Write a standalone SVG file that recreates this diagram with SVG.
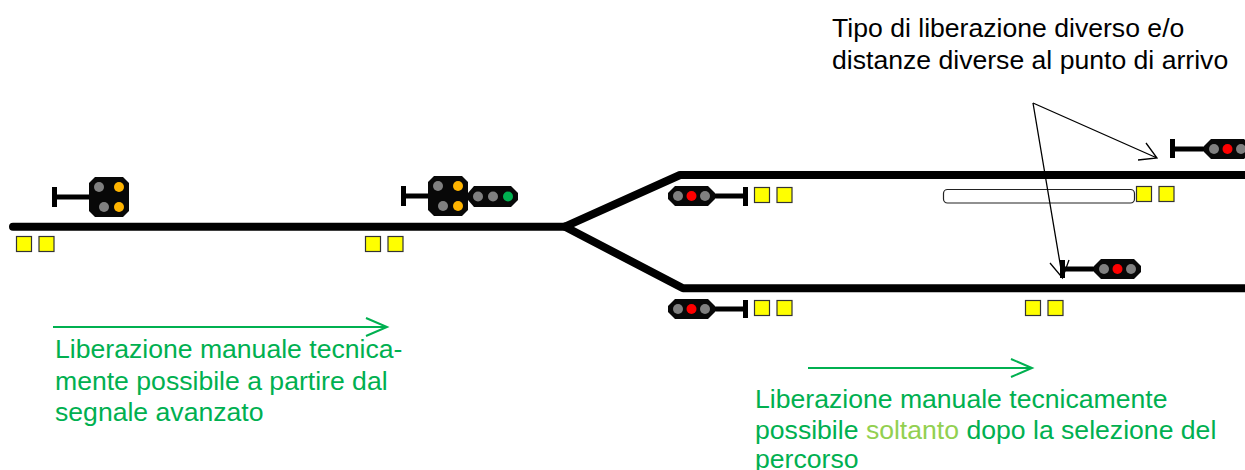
<svg xmlns="http://www.w3.org/2000/svg" width="1245" height="470" viewBox="0 0 1245 470">
<style>
.t{font-family:"Liberation Sans",Arial,sans-serif;font-size:26.6px}
.k{fill:#000}.g{fill:#00b050}.lg{fill:#92d050}
.track{fill:none;stroke:#000;stroke-width:8;stroke-linecap:round;stroke-linejoin:round}
.thin{fill:none;stroke:#000;stroke-width:1.3}
.grn{fill:none;stroke:#00b050;stroke-width:2}
.y{fill:#ff0;stroke:#333;stroke-width:1.2}
.b{fill:#080808}
.o{fill:#808080}.a{fill:#ffb400}.r{fill:#f00}.gl{fill:#00b050}
</style>
<defs>
<g id="sq"><rect class="y" x="0.5" y="0.5" width="15" height="15"/><rect class="y" x="23" y="0.5" width="15" height="15"/></g>
<g id="s3"><path class="b" d="M7 0H40L47 7V13L40 20H7L0 13V7Z"/><circle class="o" cx="10" cy="10" r="5"/><circle class="r" cx="23.500" cy="10" r="5"/><circle class="o" cx="37" cy="10" r="5"/></g>
<g id="s4"><path class="b" d="M6 0H34L40 6V34L34 40H6L0 34V6Z"/><circle class="o" cx="10" cy="10" r="5"/><circle class="a" cx="30" cy="10" r="5"/><circle class="o" cx="15" cy="30" r="5"/><circle class="a" cx="30" cy="30" r="5"/></g>
</defs>
<g id="bar"><rect x="943.500" y="189.500" width="191" height="13.500" rx="4" fill="#fff" stroke="#222" stroke-width="1.2"/></g>
<g id="connectors">
<path class="track" d="M13 226.700H565L680 175H1248"/>
<path class="track" d="M565 226.700L683 288.300H1248"/>
<path class="thin" d="M1033 103L1157 158M1146 143L1157 158L1138 160"/>
<path class="thin" d="M1033 103L1062.500 278M1050 263L1062.500 278L1069 260"/>
<path class="grn" d="M53 327H387M366 318L387 327L366 336"/>
<path class="grn" d="M808 368H1032M1011 359L1032 368L1011 377"/>
</g>
<g id="signal-1"><path d="M54.500 187V207M54.500 197H90" fill="none" stroke="#000" stroke-width="5"/><use href="#s4" x="89" y="177"/></g>
<g id="signal-2"><path d="M403.500 186V206M403.500 196H430" fill="none" stroke="#000" stroke-width="5"/><use href="#s4" x="428" y="176"/><path class="b" d="M474 186H511L518 193V200L511 207H474L468 200V193Z"/><circle class="o" cx="478" cy="196.500" r="5"/><circle class="o" cx="493" cy="196.500" r="5"/><circle class="gl" cx="508" cy="196.500" r="5"/></g>
<g id="signal-3"><path d="M745.500 187V206M712 196H745" fill="none" stroke="#000" stroke-width="5"/><use href="#s3" x="668" y="186"/></g>
<g id="signal-4"><path d="M745.500 300V318M712 309H745" fill="none" stroke="#000" stroke-width="5"/><use href="#s3" x="668" y="299"/></g>
<g id="signal-5"><path d="M1172.500 139V158M1172.500 149H1206" fill="none" stroke="#000" stroke-width="5"/><use href="#s3" x="1204" y="139"/></g>
<g id="signal-6"><path d="M1062.500 260V278M1062.500 269H1096" fill="none" stroke="#000" stroke-width="5"/><use href="#s3" x="1094" y="259"/></g>
<g id="detectors">
<use href="#sq" x="16" y="236"/><use href="#sq" x="365" y="236"/><use href="#sq" x="754" y="187"/><use href="#sq" x="754" y="300"/><use href="#sq" x="1136" y="186"/><use href="#sq" x="1025" y="300"/>
</g>
<g id="labels">
<text class="t k" x="832" y="37">Tipo di liberazione diverso e/o</text>
<text class="t k" x="832" y="69">distanze diverse al punto di arrivo</text>
<text class="t g" x="55" y="358">Liberazione manuale tecnica-</text>
<text class="t g" x="55" y="390">mente possibile a partire dal</text>
<text class="t g" x="55" y="421">segnale avanzato</text>
<text class="t g" x="755" y="408">Liberazione manuale tecnicamente</text>
<text class="t g" x="755" y="439">possibile <tspan class="lg">soltanto</tspan> dopo la selezione del</text>
<text class="t g" x="755" y="468">percorso</text>
</g>
</svg>
